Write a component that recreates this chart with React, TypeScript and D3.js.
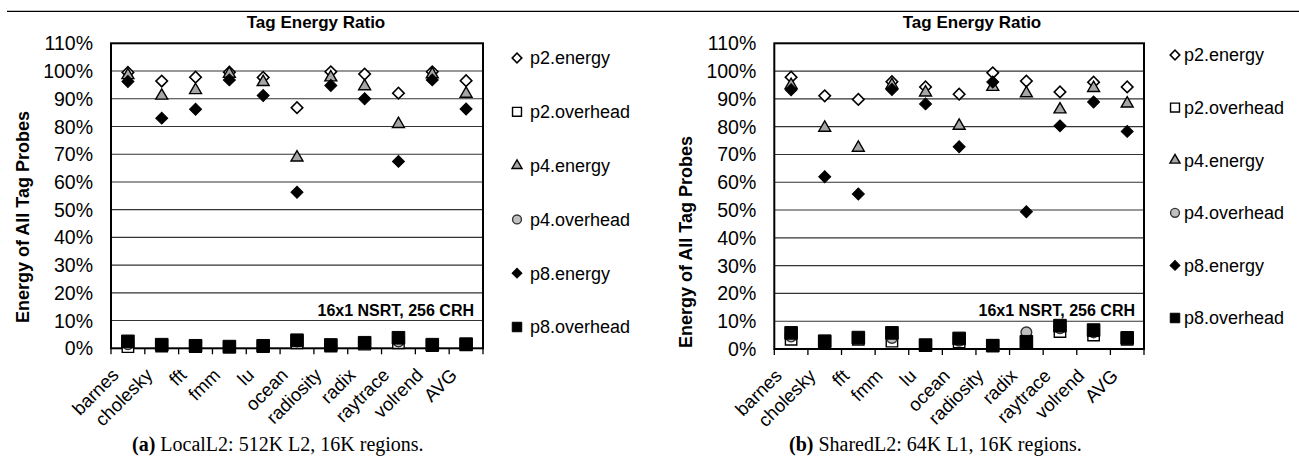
import React from 'react';
import * as d3 from 'd3';

// ---------- data ----------
const categories = ['barnes', 'cholesky', 'fft', 'fmm', 'lu', 'ocean', 'radiosity', 'radix', 'raytrace', 'volrend', 'AVG'];
const seriesNames = ['p2.energy', 'p2.overhead', 'p4.energy', 'p4.overhead', 'p8.energy', 'p8.overhead'];
const yTicks = [0, 10, 20, 30, 40, 50, 60, 70, 80, 90, 100, 110];
const chartTitle = 'Tag Energy Ratio';
const yAxisTitle = 'Energy of All Tag Probes';
const noteText = '16x1 NSRT, 256 CRH';

// (a) LocalL2
const localP2Energy = [99.5, 96.4, 97.8, 99.6, 97.7, 86.8, 99.7, 98.9, 92.0, 99.7, 96.5];
const localP2Overhead = [0.6, 0.8, 0.6, 0.4, 0.6, 2.0, 0.8, 1.5, 2.0, 1.0, 1.2];
const localP4Energy = [98.5, 91.1, 93.1, 99.0, 96.0, 68.8, 97.7, 94.5, 80.9, 98.8, 91.8];
const localP4Overhead = [1.5, 1.2, 1.0, 0.6, 0.9, 2.5, 1.1, 1.8, 2.5, 1.2, 1.4];
const localP8Energy = [96.2, 83.0, 86.2, 96.8, 91.2, 56.3, 94.8, 90.0, 67.4, 96.8, 86.3];
const localP8Overhead = [2.5, 1.3, 0.9, 0.6, 0.9, 2.9, 1.2, 2.0, 3.8, 1.3, 1.5];

// (b) SharedL2
const sharedP2Energy = [97.8, 91.1, 89.8, 96.2, 94.3, 91.7, 99.4, 96.4, 92.5, 96.0, 94.3];
const sharedP2Overhead = [3.5, 2.5, 3.5, 2.8, 1.2, 2.5, 1.2, 2.5, 6.3, 5.0, 3.5];
const sharedP4Energy = [95.0, 79.6, 72.4, 95.0, 92.3, 80.3, 94.3, 92.0, 86.2, 93.9, 88.3];
const sharedP4Overhead = [4.5, 2.7, 3.8, 4.0, 1.3, 3.0, 1.2, 6.0, 7.5, 6.0, 3.8];
const sharedP8Energy = [93.3, 62.0, 55.8, 93.4, 88.2, 72.8, 96.1, 49.4, 80.3, 88.9, 78.3];
const sharedP8Overhead = [5.8, 2.8, 4.1, 5.8, 1.4, 3.8, 1.2, 2.6, 8.4, 6.8, 4.0];

const captionA = ['(a)', ' LocalL2: 512K L2, 16K regions.'];
const captionB = ['(b)', ' SharedL2: 64K L1, 16K regions.'];

// ---------- styles ----------
const SANS = '"Liberation Sans", Arial, Helvetica, sans-serif';
const SERIF = '"Liberation Serif", "Times New Roman", Times, serif';

type MarkerStyle = { type: d3.SymbolType; rotate: number; size: number; legendSize: number; fill: string; stroke: string; sw: number };
const markerStyles: MarkerStyle[] = [
  { type: d3.symbolSquare, rotate: 45, size: 66, legendSize: 46, fill: '#ffffff', stroke: '#000000', sw: 1.6 },
  { type: d3.symbolSquare, rotate: 0, size: 130, legendSize: 80, fill: '#ffffff', stroke: '#000000', sw: 1.4 },
  { type: d3.symbolTriangle, rotate: 0, size: 62, legendSize: 44, fill: '#a6a6a6', stroke: '#000000', sw: 1.4 },
  { type: d3.symbolCircle, rotate: 0, size: 90, legendSize: 62, fill: '#c0c0c0', stroke: '#333333', sw: 1.4 },
  { type: d3.symbolSquare, rotate: 45, size: 72, legendSize: 48, fill: '#000000', stroke: '#000000', sw: 1 },
  { type: d3.symbolSquare, rotate: 0, size: 160, legendSize: 90, fill: '#000000', stroke: '#000000', sw: 1 },
];

type Layout = {
  left: number; right: number; top: number; bottom: number;
  titleX: number; yTitleX: number; yTitleY: number;
  legendMarkerX: number; legendTextX: number; legendY0: number; legendStep: number;
  captionX: number;
};

const layoutA: Layout = {
  left: 111, right: 483, top: 43.3, bottom: 348.3,
  titleX: 316, yTitleX: 22.5, yTitleY: 217,
  legendMarkerX: 517, legendTextX: 530, legendY0: 58, legendStep: 53.8,
  captionX: 132,
};
const layoutB: Layout = {
  left: 774.3, right: 1144, top: 43.3, bottom: 349,
  titleX: 972, yTitleX: 686, yTitleY: 242,
  legendMarkerX: 1175, legendTextX: 1184, legendY0: 55, legendStep: 52.6,
  captionX: 789,
};

function Panel({ layout, series, caption }: { layout: Layout; series: number[][]; caption: string[] }) {
  const x = d3.scaleBand<string>().domain(categories).range([layout.left, layout.right]);
  const y = d3.scaleLinear().domain([0, 110]).range([layout.bottom, layout.top]);
  const bw = x.bandwidth();
  const cx = (c: string) => (x(c) as number) + bw / 2;
  const symPath = (m: MarkerStyle, legend: boolean) =>
    d3.symbol().type(m.type).size(legend ? m.legendSize : m.size)() as string;
  const boundaries = categories.map((c) => x(c) as number).concat([layout.right]);

  return (
    <g>
      <text x={layout.titleX} y={28} textAnchor="middle" fontFamily={SANS} fontWeight="bold" fontSize={17}>
        {chartTitle}
      </text>
      {yTicks.filter((t) => t > 0 && t < 110).map((t) => (
        <line key={t} x1={layout.left} x2={layout.right} y1={y(t)} y2={y(t)} stroke="#333" strokeWidth={1.1} />
      ))}
      <text x={layout.right - 9} y={316} textAnchor="end" fontFamily={SANS} fontWeight="bold" fontSize={16}>
        {noteText}
      </text>
      <rect x={layout.left} y={layout.top} width={layout.right - layout.left} height={layout.bottom - layout.top}
        fill="none" stroke="#000" strokeWidth={2} />
      {boundaries.map((b, i) => (
        <line key={i} x1={b} x2={b} y1={layout.bottom} y2={layout.bottom + 6} stroke="#000" strokeWidth={1.3} />
      ))}
      {yTicks.map((t) => (
        <text key={t} x={layout.left - 18} y={y(t)} dy="0.36em" textAnchor="end" fontFamily={SANS} fontSize={19.5}>
          {`${t}%`}
        </text>
      ))}
      <text transform={`translate(${layout.yTitleX},${layout.yTitleY}) rotate(-90)`} dy="0.36em" textAnchor="middle"
        fontFamily={SANS} fontWeight="bold" fontSize={18}>
        {yAxisTitle}
      </text>
      {categories.map((c) => (
        <text key={c} transform={`translate(${cx(c) - 8},${layout.bottom + 28}) rotate(-45)`} textAnchor="end"
          fontFamily={SANS} fontSize={18.5}>
          {c}
        </text>
      ))}
      {series.map((vals, si) => {
        const m = markerStyles[si];
        return (
          <g key={si}>
            {vals.map((v, i) => (
              <path key={i} d={symPath(m, false)}
                transform={`translate(${cx(categories[i])},${y(v)}) rotate(${m.rotate})`}
                fill={m.fill} stroke={m.stroke} strokeWidth={m.sw} />
            ))}
          </g>
        );
      })}
      {seriesNames.map((n, i) => {
        const m = markerStyles[i];
        const ly = layout.legendY0 + i * layout.legendStep;
        return (
          <g key={n}>
            <path d={symPath(m, true)} transform={`translate(${layout.legendMarkerX},${ly}) rotate(${m.rotate})`}
              fill={m.fill} stroke={m.stroke} strokeWidth={m.sw} />
            <text x={layout.legendTextX} y={ly} dy="0.36em" fontFamily={SANS} fontSize={18}>{n}</text>
          </g>
        );
      })}
      <text x={layout.captionX} y={451} fontFamily={SERIF} fontSize={20}>
        <tspan fontWeight="bold">{caption[0]}</tspan>
        <tspan>{caption[1]}</tspan>
      </text>
    </g>
  );
}

export default function App() {
  const seriesA = [localP2Energy, localP2Overhead, localP4Energy, localP4Overhead, localP8Energy, localP8Overhead];
  const seriesB = [sharedP2Energy, sharedP2Overhead, sharedP4Energy, sharedP4Overhead, sharedP8Energy, sharedP8Overhead];
  return (
    <svg width={1299} height={466} style={{ position: 'absolute', left: 0, top: 0, background: '#fff' }}>
      <rect width={1299} height={466} fill="#fff" />
      <line x1={7} x2={1299} y1={11.3} y2={11.3} stroke="#000" strokeWidth={1.2} />
      <Panel layout={layoutA} series={seriesA} caption={captionA} />
      <Panel layout={layoutB} series={seriesB} caption={captionB} />
    </svg>
  );
}
